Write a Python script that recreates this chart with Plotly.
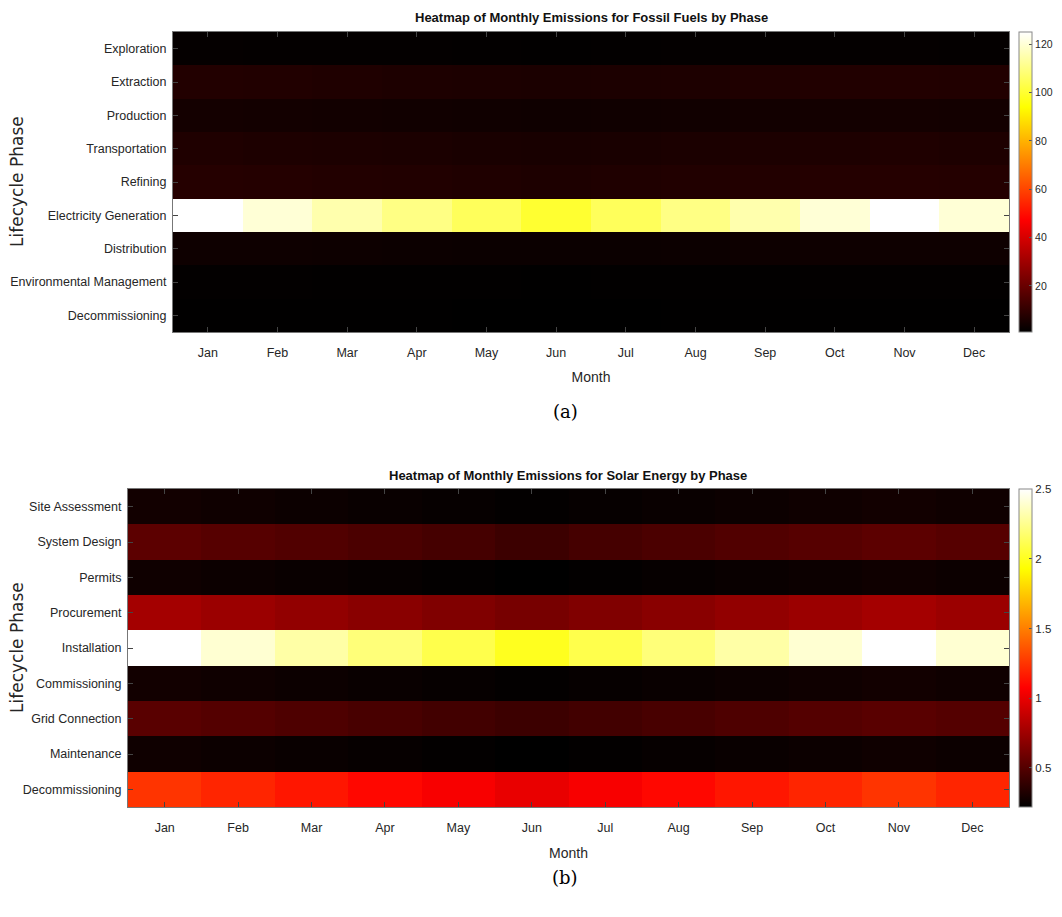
import plotly.graph_objects as go

months = ["Jan", "Feb", "Mar", "Apr", "May", "Jun", "Jul", "Aug", "Sep", "Oct", "Nov", "Dec"]

fossil_phases = ["Exploration", "Extraction", "Production", "Transportation", "Refining",
                 "Electricity Generation", "Distribution", "Environmental Management", "Decommissioning"]
fossil_exploration = [1.8, 1.7, 1.7, 1.6, 1.5, 1.4, 1.5, 1.6, 1.7, 1.7, 1.8, 1.7]
fossil_extraction = [7.2, 6.9, 6.6, 6.3, 6.0, 5.8, 6.0, 6.3, 6.6, 6.9, 7.2, 6.9]
fossil_production = [4.6, 4.4, 4.2, 4.0, 3.9, 3.7, 3.9, 4.0, 4.2, 4.4, 4.6, 4.4]
fossil_transportation = [6.6, 6.3, 6.1, 5.8, 5.5, 5.3, 5.5, 5.8, 6.1, 6.3, 6.6, 6.3]
fossil_refining = [7.8, 7.5, 7.2, 6.9, 6.6, 6.2, 6.6, 6.9, 7.2, 7.5, 7.8, 7.5]
fossil_electricity = [125, 120, 115, 110, 105, 100, 105, 110, 115, 120, 125, 120]
fossil_distribution = [3.6, 3.5, 3.3, 3.2, 3.0, 2.9, 3.0, 3.2, 3.3, 3.5, 3.6, 3.5]
fossil_environmental = [1.5, 1.44, 1.38, 1.32, 1.26, 1.2, 1.26, 1.32, 1.38, 1.44, 1.5, 1.44]
fossil_decommissioning = [1.2, 1.15, 1.1, 1.06, 1.0, 0.96, 1.0, 1.06, 1.1, 1.15, 1.2, 1.15]

solar_phases = ["Site Assessment", "System Design", "Permits", "Procurement", "Installation",
                "Commissioning", "Grid Connection", "Maintenance", "Decommissioning"]
solar_site = [0.28, 0.27, 0.26, 0.25, 0.24, 0.23, 0.24, 0.25, 0.26, 0.27, 0.28, 0.27]
solar_design = [0.53, 0.51, 0.49, 0.47, 0.45, 0.42, 0.45, 0.47, 0.49, 0.51, 0.53, 0.51]
solar_permits = [0.27, 0.26, 0.25, 0.24, 0.23, 0.22, 0.23, 0.24, 0.25, 0.26, 0.27, 0.26]
solar_procurement = [0.77, 0.74, 0.71, 0.68, 0.65, 0.62, 0.65, 0.68, 0.71, 0.74, 0.77, 0.74]
solar_installation = [2.5, 2.4, 2.3, 2.2, 2.1, 2.0, 2.1, 2.2, 2.3, 2.4, 2.5, 2.4]
solar_commissioning = [0.28, 0.27, 0.26, 0.25, 0.24, 0.23, 0.24, 0.25, 0.26, 0.27, 0.28, 0.27]
solar_grid = [0.52, 0.5, 0.48, 0.46, 0.44, 0.42, 0.44, 0.46, 0.48, 0.5, 0.52, 0.5]
solar_maintenance = [0.27, 0.26, 0.25, 0.24, 0.23, 0.22, 0.23, 0.24, 0.25, 0.26, 0.27, 0.26]
solar_decommissioning = [1.25, 1.2, 1.15, 1.1, 1.05, 1.0, 1.05, 1.1, 1.15, 1.2, 1.25, 1.2]

fossil_ticks = [20, 40, 60, 80, 100, 120]
solar_ticks = [0.5, 1, 1.5, 2, 2.5]

fossil_z = [fossil_exploration, fossil_extraction, fossil_production, fossil_transportation,
            fossil_refining, fossil_electricity, fossil_distribution, fossil_environmental,
            fossil_decommissioning]
solar_z = [solar_site, solar_design, solar_permits, solar_procurement, solar_installation,
           solar_commissioning, solar_grid, solar_maintenance, solar_decommissioning]

hot = [[0.0, "rgb(0,0,0)"], [0.375, "rgb(255,0,0)"], [0.75, "rgb(255,255,0)"], [1.0, "rgb(255,255,255)"]]

OFF = 8  # page body margin
W, H = 1062 - 2 * OFF, 917 - 2 * OFF
SANS = "Liberation Sans, Arial, sans-serif"
TXT = "#262626"


def px_x(v):
    return (v - OFF) / W


def px_y(v):
    return 1 - (v - OFF) / H


fig = go.Figure()

fig.add_trace(go.Heatmap(
    z=fossil_z, x=months, y=fossil_phases, colorscale=hot, xaxis="x", yaxis="y",
    colorbar=dict(x=px_x(1019), xanchor="left", xpad=0, y=px_y(182), yanchor="middle", ypad=0,
                  lenmode="pixels", len=300, thickness=13, thicknessmode="pixels",
                  tickvals=fossil_ticks, ticks="inside", ticklen=3, tickcolor="#555",
                  outlinewidth=1, outlinecolor="#888",
                  tickfont=dict(family=SANS, size=10.5, color=TXT)),
))
fig.add_trace(go.Heatmap(
    z=solar_z, x=months, y=solar_phases, colorscale=hot, xaxis="x2", yaxis="y2",
    colorbar=dict(x=px_x(1019), xanchor="left", xpad=0, y=px_y(648), yanchor="middle", ypad=0,
                  lenmode="pixels", len=318, thickness=13, thicknessmode="pixels",
                  tickvals=solar_ticks, ticks="inside", ticklen=3, tickcolor="#555",
                  outlinewidth=1, outlinecolor="#888",
                  tickfont=dict(family=SANS, size=11.5, color=TXT)),
))

x_common = dict(showline=True, linecolor="#777", linewidth=1, mirror="ticks",
                ticks="inside", ticklen=5, tickcolor="#444", showgrid=False, zeroline=False,
                automargin=False, ticklabelstandoff=9,
                tickfont=dict(family=SANS, size=12.5, color=TXT))
y_common = dict(showline=True, linecolor="#777", linewidth=1, mirror="ticks",
                ticks="inside", ticklen=5, tickcolor="#444", showgrid=False, zeroline=False,
                automargin=False, ticklabelstandoff=3, autorange="reversed",
                tickfont=dict(family=SANS, size=12.5, color=TXT))

fig.update_layout(
    width=W, height=H,
    margin=dict(l=0, r=0, t=0, b=0, autoexpand=False),
    paper_bgcolor="white", plot_bgcolor="white",
    xaxis=dict(domain=[px_x(173), px_x(1009)], anchor="y", **x_common,
               title=dict(text="Month", font=dict(family=SANS, size=14, color=TXT), standoff=13)),
    yaxis=dict(domain=[px_y(332), px_y(32)], anchor="x", **y_common),
    xaxis2=dict(domain=[px_x(128), px_x(1009)], anchor="y2", **x_common,
                title=dict(text="Month", font=dict(family=SANS, size=14, color=TXT), standoff=14)),
    yaxis2=dict(domain=[px_y(807), px_y(489)], anchor="x2", **y_common),
)

annotations = [
    dict(text="<b>Heatmap of Monthly Emissions for Fossil Fuels by Phase</b>", x=px_x(591), y=px_y(17),
         xref="paper", yref="paper", showarrow=False, xanchor="center", yanchor="middle",
         font=dict(family=SANS, size=13, color="#111")),
    dict(text="<b>Heatmap of Monthly Emissions for Solar Energy by Phase</b>", x=px_x(568), y=px_y(475),
         xref="paper", yref="paper", showarrow=False, xanchor="center", yanchor="middle",
         font=dict(family=SANS, size=13, color="#111")),
    dict(text="Lifecycle Phase", x=px_x(17), y=px_y(182), textangle=-90,
         xref="paper", yref="paper", showarrow=False, xanchor="center", yanchor="middle",
         font=dict(family="DejaVu Sans, sans-serif", size=17, color=TXT)),
    dict(text="Lifecycle Phase", x=px_x(17), y=px_y(648), textangle=-90,
         xref="paper", yref="paper", showarrow=False, xanchor="center", yanchor="middle",
         font=dict(family="DejaVu Sans, sans-serif", size=17, color=TXT)),
    dict(text="(a)", x=px_x(565), y=px_y(411),
         xref="paper", yref="paper", showarrow=False, xanchor="center", yanchor="middle",
         font=dict(family="DejaVu Serif, Liberation Serif, serif", size=18, color="#000")),
    dict(text="(b)", x=px_x(565), y=px_y(877),
         xref="paper", yref="paper", showarrow=False, xanchor="center", yanchor="middle",
         font=dict(family="DejaVu Serif, Liberation Serif, serif", size=18, color="#000")),
]
fig.update_layout(annotations=annotations)

fig.write_html("out.html")
